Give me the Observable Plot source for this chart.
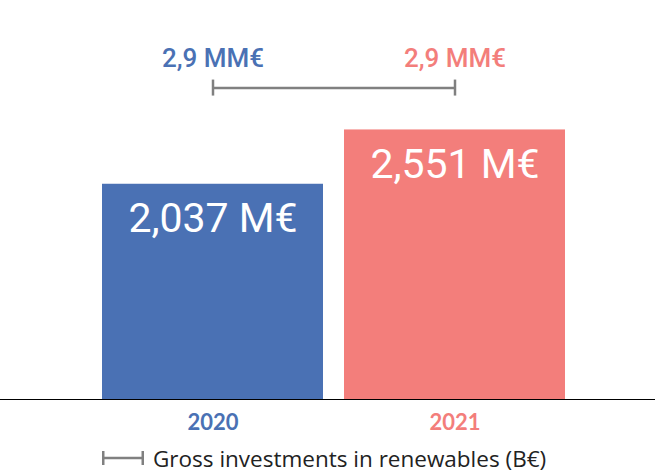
<!DOCTYPE html>
<html><head><meta charset="utf-8">
<script src="https://cdn.jsdelivr.net/npm/d3@7"></script>
<script src="https://cdn.jsdelivr.net/npm/@observablehq/plot@0.6"></script>
<style>
body{margin:0;background:#fff;}
#chart{width:655px;}
.legend{display:flex;align-items:center;height:28px;padding-left:102px;font-family:"Open Sans",sans-serif;font-size:22.5px;color:#222;}
.legend svg{margin-right:9px;}
</style>
</head><body><div id="chart"></div>
<script>
const years = ["2020", "2021"];
const investments = [2037, 2551]; // M€
const valueLabels = ["2,037 M€", "2,551 M€"];
const grossInvest = [2.9, 2.9]; // B€
const grossLabels = ["2,9 MM€", "2,9 MM€"];
const colors = ["#4a71b4", "#f37e7b"];
const legendLabel = "Gross investments in renewables (B€)";

const data = years.map((y, i) => ({year: y, value: investments[i], label: valueLabels[i], gross: grossInvest[i] * 1000, grossLabel: grossLabels[i]}));
const span = [{from: years[0], to: years[1], v: grossInvest[0] * 1000}];
const gray = "#808080";

const chart = Plot.plot({
  width: 655,
  height: 444,
  marginLeft: 102,
  marginRight: 90,
  marginTop: 82,
  marginBottom: 45,
  x: {domain: years, paddingInner: 0.087, paddingOuter: 0, axis: null},
  y: {domain: [0, 3000], axis: null},
  color: {domain: years, range: colors},
  style: {fontFamily: "Roboto, sans-serif", background: "white"},
  marks: [
    Plot.barY(data, {x: "year", y: "value", fill: "year"}),
    Plot.text(data, {x: "year", y: "value", text: "label", fill: "white", fontSize: 41, dy: 35, fontFamily: "Roboto, sans-serif", letterSpacing: -0.5}),
    Plot.link(span, {x1: "from", x2: "to", y1: "v", y2: "v", stroke: gray, strokeWidth: 2.5, dy: -5}),
    Plot.ruleX(data, {x: "year", y1: "gross", y2: "gross", insetTop: -8, insetBottom: -8, stroke: gray, strokeWidth: 2.5, dy: -5}),
    Plot.text(data, {x: "year", y: "gross", text: "grossLabel", fill: "year", fontSize: 26, fontWeight: 500, dy: -34}),
    Plot.text(data, {x: "year", y: 0, text: "year", fill: "year", fontSize: 22, fontWeight: "bold", dy: 23, fontFamily: "Lato, sans-serif"}),
    Plot.ruleY([0], {stroke: "black", strokeWidth: 1.2, insetLeft: -102, insetRight: -90})
  ]
});
document.getElementById("chart").appendChild(chart);

const legend = document.createElement("div");
legend.className = "legend";
legend.innerHTML = `<svg width="42" height="16"><line x1="1" y1="8" x2="41" y2="8" stroke="${gray}" stroke-width="2.5"/><line x1="1.25" y1="1" x2="1.25" y2="15" stroke="${gray}" stroke-width="2.5"/><line x1="40.75" y1="1" x2="40.75" y2="15" stroke="${gray}" stroke-width="2.5"/></svg><span></span>`;
legend.querySelector("span").textContent = legendLabel;
document.getElementById("chart").appendChild(legend);
</script>
</body></html>
